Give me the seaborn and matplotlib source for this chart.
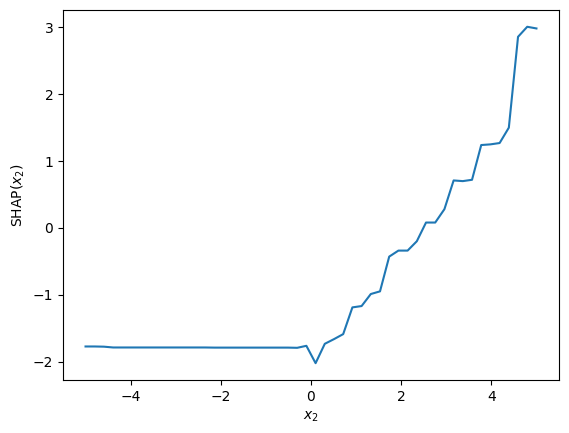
import numpy as np
import pandas as pd
import matplotlib
import matplotlib.pyplot as plt
import seaborn as sns

matplotlib.use('Agg')

# 50 pontos igualmente espaçados entre -5 e 5
x2 = np.linspace(-5, 5, 50)

shap_x2 = [
    -1.775, -1.775, -1.778, -1.790, -1.790, -1.790, -1.790, -1.790, -1.790, -1.790,
    -1.790, -1.790, -1.790, -1.790, -1.792, -1.792, -1.792, -1.792, -1.792, -1.792,
    -1.792, -1.792, -1.792, -1.795, -1.765, -2.025, -1.735, -1.665, -1.590, -1.190,
    -1.170, -0.990, -0.950, -0.430, -0.340, -0.340, -0.200, 0.080, 0.080, 0.280,
    0.710, 0.700, 0.720, 1.240, 1.250, 1.270, 1.500, 2.860, 3.010, 2.985,
]

df = pd.DataFrame({'x2': x2, 'shap': shap_x2})

fig, ax = plt.subplots(figsize=(5.69, 4.33), dpi=100)
fig.subplots_adjust(left=0.1107, right=0.9824, top=0.977, bottom=0.1224)

sns.lineplot(data=df, x='x2', y='shap', ax=ax, color='#1f77b4')
ax.set_xlabel('$x_2$')
ax.set_ylabel('SHAP($x_2$)')

fig.savefig('out.png', dpi=100)
